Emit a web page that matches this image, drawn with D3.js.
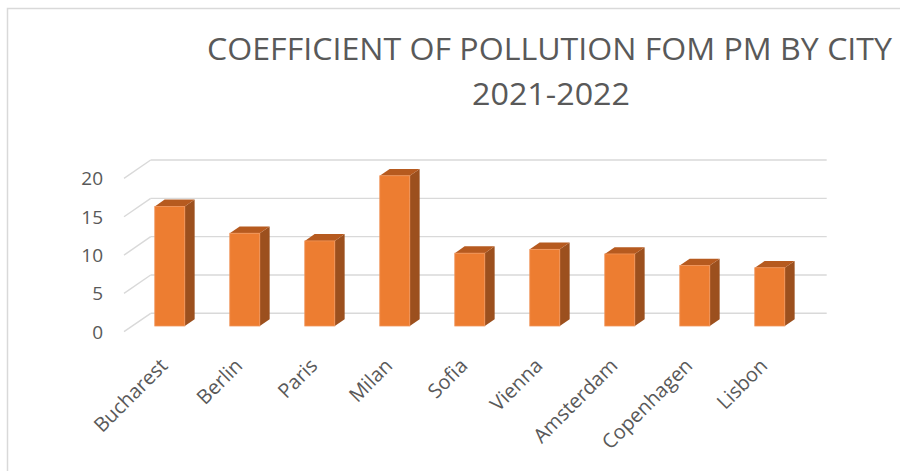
<!DOCTYPE html>
<html>
<head>
<meta charset="utf-8">
<script src="https://cdn.jsdelivr.net/npm/d3@7"></script>
<style>
  body { margin: 0; background: #fff; }
  svg { display: block; }
</style>
</head>
<body>
<svg id="chart" width="900" height="471"></svg>
<script>
// data
var cities = ["Bucharest", "Berlin", "Paris", "Milan", "Sofia", "Vienna", "Amsterdam", "Copenhagen", "Lisbon"];
var values = [15.6, 12.1, 11.1, 19.6, 9.5, 10.0, 9.4, 7.9, 7.6];
var yTicks = [0, 5, 10, 15, 20];
var titleLines = ["COEFFICIENT OF POLLUTION FOM PM BY CITY", "2021-2022"];

var svg = d3.select("#chart");
var textColor = "#595959",
    gridColor = "#d9d9d9";

// chart frame (runs off the right and bottom of the picture)
svg.append("rect")
    .attr("x", 7.5).attr("y", 8.5)
    .attr("width", 1000).attr("height", 1000)
    .attr("fill", "#fff")
    .attr("stroke", gridColor)
    .attr("stroke-width", 1.5);

// simple oblique projection: front-left corner of the floor + depth vector
var floor = {x: 124, y: 331.7},
    depth = {dx: 26.7, dy: -18.4};

var h = d3.scaleLinear().domain([0, 20]).range([0, 153.3]);
var x = d3.scaleBand()
    .domain(cities)
    .range([0, 675])
    .paddingInner(0.6)
    .paddingOuter(0.3);

function px(off, t) { return floor.x + off + t * depth.dx; }
function py(v, t) { return floor.y - h(v) + t * depth.dy; }

// gridlines: back wall + left side wall
var grid = svg.append("g").attr("stroke", gridColor).attr("stroke-width", 1.4).attr("fill", "none");
yTicks.forEach(function(v) {
    grid.append("line")
        .attr("x1", px(0, 1)).attr("y1", py(v, 1))
        .attr("x2", px(676, 1)).attr("y2", py(v, 1));
    grid.append("line")
        .attr("x1", px(0, 0)).attr("y1", py(v, 0))
        .attr("x2", px(0, 1)).attr("y2", py(v, 1));
});

// y tick labels at the front edge
svg.append("g").selectAll("text")
    .data(yTicks)
    .enter().append("text")
    .attr("x", 103)
    .attr("y", function(d) { return py(d, 0); })
    .attr("dy", "0.36em")
    .attr("text-anchor", "end")
    .attr("fill", textColor)
    .style("font-family", "'Open Sans', 'Noto Sans', sans-serif")
    .style("font-size", "19px")
    .text(function(d) { return d; });

// bars
var tf = 0.31, tb = 0.68;
var ddx = (tb - tf) * depth.dx, ddy = (tb - tf) * depth.dy;
var bars = svg.append("g").selectAll("g")
    .data(cities.map(function(c, i) { return {city: c, value: values[i]}; }))
    .enter().append("g");

bars.append("polygon")  // side
    .attr("points", function(d) {
        var x1 = px(x(d.city) + x.bandwidth(), tf), y0 = py(0, tf), y1 = py(d.value, tf);
        return [[x1, y0], [x1, y1], [x1 + ddx, y1 + ddy], [x1 + ddx, y0 + ddy]].join(" ");
    })
    .attr("fill", "#9c501e");

bars.append("polygon")  // top
    .attr("points", function(d) {
        var x0 = px(x(d.city), tf), x1 = x0 + x.bandwidth(), y1 = py(d.value, tf);
        return [[x0, y1], [x1, y1], [x1 + ddx, y1 + ddy], [x0 + ddx, y1 + ddy]].join(" ");
    })
    .attr("fill", "#b65a1f");

bars.append("rect")  // front
    .attr("x", function(d) { return px(x(d.city), tf); })
    .attr("y", function(d) { return py(d.value, tf); })
    .attr("width", x.bandwidth())
    .attr("height", function(d) { return h(d.value); })
    .attr("fill", "#ed7d31")
    .attr("stroke", "#f0955a")
    .attr("stroke-width", 0.8);

// category labels, rotated
svg.append("g").selectAll("text")
    .data(cities)
    .enter().append("text")
    .attr("transform", function(d) {
        var cx = px(x(d) + x.bandwidth() / 2, tf) - 1;
        return "translate(" + cx + ",367) rotate(-45)";
    })
    .attr("text-anchor", "end")
    .attr("fill", textColor)
    .style("font-family", "'Open Sans', 'Noto Sans', sans-serif")
    .style("font-size", "20px")
    .text(function(d) { return d; });

// title
var title = svg.append("g")
    .attr("fill", textColor)
    .style("font-family", "'Open Sans', 'Noto Sans', sans-serif")
    .style("font-size", "31px");
title.append("text")
    .attr("x", 207).attr("y", 60)
    .attr("textLength", 685)
    .attr("lengthAdjust", "spacingAndGlyphs")
    .text(titleLines[0]);
title.append("text")
    .attr("x", 472).attr("y", 105)
    .attr("textLength", 158)
    .attr("lengthAdjust", "spacingAndGlyphs")
    .text(titleLines[1]);
</script>
</body>
</html>
